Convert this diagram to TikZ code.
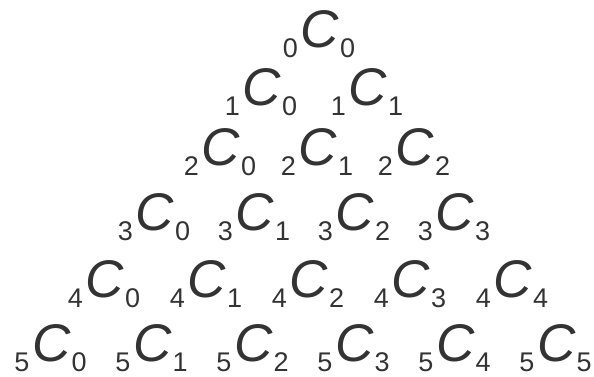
\documentclass[tikz,border=0pt]{standalone}
\usepackage{fontspec}
\setmainfont{Liberation Sans}

\newcommand*\nchoosek[2]{%
    {\fontsize{27}{27}\selectfont\raisebox{-10pt}{#1}}\kern3pt%
    {\fontsize{53}{53}\selectfont\itshape C}\kern1pt%
    {\fontsize{27}{27}\selectfont\raisebox{-10pt}{#2}}%
}

\begin{document}
\begin{tikzpicture}[
    x=1pt,
    y=-1pt
]

\definecolor{InkGray}{HTML}{333333}

\tikzset{
    coeff/.style={
        anchor=base,
        inner sep=0pt,
        text=InkGray
    }
}

\useasboundingbox (0,0) rectangle (594,376);

% row / baseline / centre / spacing
\foreach \r/\y/\xc/\dx in {0/47/319/0,1/105/314/106,2/165/317/97,3/230/304/100,4/297/308/102,5/361/303/101} {
    \foreach \k in {0,...,\r} {
        \node[coeff] (c\r\k) at ({\xc+(\k-\r/2)*\dx},\y) {\nchoosek{\r}{\k}};
    }
}

\end{tikzpicture}
\end{document}
